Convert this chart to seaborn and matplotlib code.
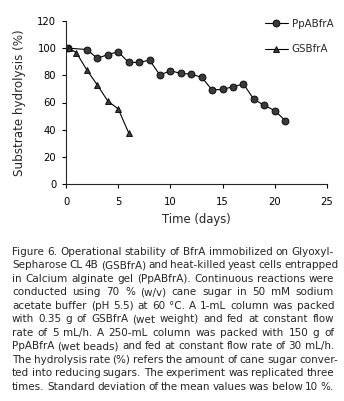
import matplotlib
matplotlib.use("Agg")
import matplotlib.pyplot as plt
import seaborn as sns
import pandas as pd

pp_days = [0.2, 2, 3, 4, 5, 6, 7, 8, 9, 10, 11, 12, 13, 14, 15, 16, 17, 18, 19, 20, 21]
pp_vals = [100, 99, 92.5, 95.3, 97.3, 89.5, 89.5, 91.2, 80.2, 83.4, 81.4, 80.9, 78.5,
           69.2, 69.7, 71.6, 73.6, 62.3, 57.9, 54, 46.7]
gs_days = [0.3, 1, 2, 3, 4, 5, 6]
gs_vals = [100, 96.6, 83.9, 72.9, 61.1, 55.3, 37.7]
series_names = ["PpABfrA", "GSBfrA"]
x_ticks = [0, 5, 10, 15, 20, 25]
y_ticks = [0, 20, 40, 60, 80, 100, 120]

caption_lines = [
    "Figure 6. Operational stability of BfrA immobilized on Glyoxyl-",
    "Sepharose CL 4B (GSBfrA) and heat-killed yeast cells entrapped",
    "in Calcium alginate gel (PpABfrA). Continuous reactions were",
    "conducted using 70 % (w/v) cane sugar in 50 mM sodium",
    "acetate buffer (pH 5.5) at 60 \u00b0C. A 1-mL column was packed",
    "with 0.35 g of GSBfrA (wet weight) and fed at constant flow",
    "rate of 5 mL/h. A 250-mL column was packed with 150 g of",
    "PpABfrA (wet beads) and fed at constant flow rate of 30 mL/h.",
    "The hydrolysis rate (%) refers the amount of cane sugar conver-",
    "ted into reducing sugars. The experiment was replicated three",
    "times. Standard deviation of the mean values was below 10 %.",
]

df = pd.concat([
    pd.DataFrame({"day": pp_days, "val": pp_vals, "series": series_names[0]}),
    pd.DataFrame({"day": gs_days, "val": gs_vals, "series": series_names[1]}),
])

sns.set_style("ticks")
plt.rcParams["font.family"] = ["DejaVu Sans"]

W, H = 344, 401
fig = plt.figure(figsize=(W / 100, H / 100), dpi=100)
ax = fig.add_axes([66 / W, 1 - 184 / H, (327 - 66) / W, (184 - 21) / H])

sns.lineplot(data=df, x="day", y="val", hue="series", style="series",
             markers={"PpABfrA": "o", "GSBfrA": "^"}, dashes=False,
             palette={"PpABfrA": "black", "GSBfrA": "black"},
             linewidth=0.8, markersize=5, markeredgecolor="black",
             markerfacecolor="#3a3a3a", markeredgewidth=0.6, ax=ax, sort=False)

ax.set_xlim(0, 25)
ax.set_ylim(0, 120)
ax.set_xticks(x_ticks)
ax.set_yticks(y_ticks)
ax.tick_params(labelsize=7.2, length=3, width=0.8, colors="black")
ax.tick_params(axis="x", pad=6)
ax.tick_params(axis="y", pad=4)
ax.set_xlabel("Time (days)", fontsize=8.4, labelpad=5)
ax.set_ylabel("Substrate hydrolysis (%)", fontsize=8.6, labelpad=8)
for s in ["top", "right"]:
    ax.spines[s].set_visible(False)
for s in ["left", "bottom"]:
    ax.spines[s].set_linewidth(0.8)

h, l = ax.get_legend_handles_labels()
leg = ax.legend(h, l, loc="upper left", bbox_to_anchor=(265 / W, 1 - 19 / H),
                bbox_transform=fig.transFigure, frameon=False, fontsize=7.4,
                handlelength=2.2, handletextpad=0.4, labelspacing=1.5,
                borderaxespad=0, borderpad=0)

# caption, justified
fs = 7.45
left_px, right_px = 12, 334
renderer = fig.canvas.get_renderer()
y0, dy = 252, 13.45
for i, line in enumerate(caption_lines):
    ypx = y0 + i * dy
    yf = 1 - ypx / H
    words = line.split(" ")
    texts = [fig.text(0, yf, w, fontsize=fs, va="center", ha="left") for w in words]
    widths = [t.get_window_extent(renderer).width for t in texts]
    gap = ((right_px - left_px) - sum(widths)) / (len(words) - 1)
    gap = max(gap, 2.3)
    x = left_px
    for t, w in zip(texts, widths):
        t.set_x(x / W)
        x += w + gap

fig.savefig("out.png", dpi=100)
